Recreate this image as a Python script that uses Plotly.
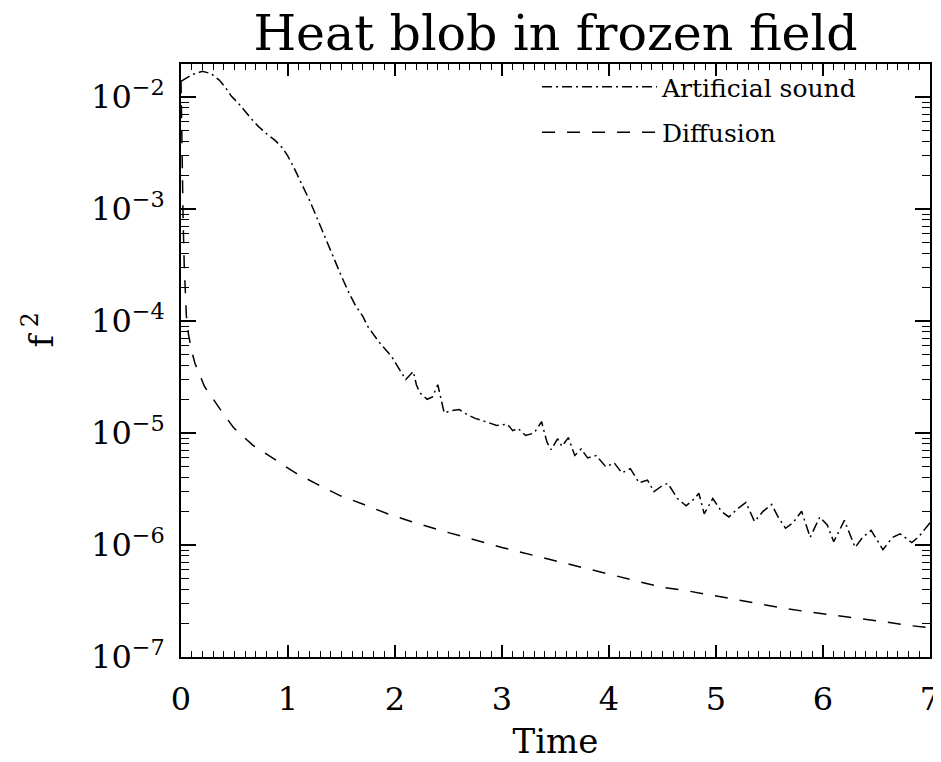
"""Heat blob in frozen field: f^2 against time, log scale."""

import plotly.graph_objects as go

_FONT = "DejaVu Serif"

# Artificial sound run (dash-dot line)
sound_t = [
    0.0, 0.05, 0.1, 0.2, 0.28, 0.36, 0.42, 0.47, 0.55, 0.65,
    0.72, 0.8, 0.88, 0.95, 1.0, 1.05, 1.1, 1.15, 1.2, 1.25,
    1.3, 1.35, 1.4, 1.45, 1.5, 1.57, 1.63, 1.7, 1.74, 1.85,
    1.97, 2.0, 2.07, 2.1, 2.14, 2.17, 2.2, 2.23, 2.3, 2.35,
    2.4, 2.43, 2.46, 2.52, 2.6, 2.68, 2.75, 2.85, 2.95, 3.05,
    3.1, 3.15, 3.22, 3.3, 3.37, 3.42, 3.46, 3.52, 3.56, 3.62,
    3.68, 3.74, 3.8, 3.88, 3.97, 4.05, 4.12, 4.2, 4.28, 4.36,
    4.42, 4.5, 4.55, 4.64, 4.72, 4.8, 4.84, 4.89, 4.97, 5.05,
    5.12, 5.2, 5.28, 5.36, 5.44, 5.52, 5.58, 5.65, 5.72, 5.8,
    5.88, 5.97, 6.04, 6.1, 6.2, 6.3, 6.37, 6.45, 6.56, 6.65,
    6.72, 6.83, 6.9, 7.0,
]
sound_f2 = [
    1.38e-2, 1.48e-2, 1.58e-2, 1.70e-2, 1.62e-2, 1.41e-2, 1.20e-2, 1.02e-2, 8.5e-3, 6.5e-3,
    5.5e-3, 4.7e-3, 4.1e-3, 3.5e-3, 2.95e-3, 2.4e-3, 1.9e-3, 1.55e-3, 1.2e-3, 9.3e-4,
    7.1e-4, 5.4e-4, 4.2e-4, 3.2e-4, 2.5e-4, 1.78e-4, 1.38e-4, 1.10e-4, 9.1e-5, 6.5e-5,
    4.8e-5, 4.3e-5, 3.4e-5, 3.0e-5, 3.3e-5, 3.55e-5, 2.7e-5, 2.3e-5, 2.0e-5, 2.1e-5,
    2.7e-5, 2.0e-5, 1.51e-5, 1.58e-5, 1.62e-5, 1.45e-5, 1.35e-5, 1.26e-5, 1.17e-5, 1.20e-5,
    1.05e-5, 1.10e-5, 9.5e-6, 1.0e-5, 1.26e-5, 8.3e-6, 7.1e-6, 8.9e-6, 7.6e-6, 9.1e-6,
    6.3e-6, 7.2e-6, 6.0e-6, 6.3e-6, 5.0e-6, 5.4e-6, 4.4e-6, 4.8e-6, 3.6e-6, 3.8e-6,
    3.0e-6, 3.4e-6, 3.55e-6, 2.6e-6, 2.24e-6, 2.6e-6, 2.9e-6, 1.9e-6, 2.6e-6, 2.0e-6,
    1.78e-6, 2.1e-6, 2.4e-6, 1.62e-6, 2.0e-6, 2.3e-6, 1.78e-6, 1.41e-6, 1.58e-6, 2.0e-6,
    1.17e-6, 1.78e-6, 1.51e-6, 1.07e-6, 1.66e-6, 9.5e-7, 1.17e-6, 1.35e-6, 9.1e-7, 1.17e-6,
    1.26e-6, 1.05e-6, 1.20e-6, 1.58e-6,
]

# Diffusion run (dashed line)
diff_t = [
    0.0, 0.005, 0.01, 0.02, 0.03, 0.04, 0.05, 0.07, 0.1, 0.13,
    0.22, 0.36, 0.49, 0.67, 0.86, 1.07, 1.27, 1.49, 1.71, 1.93,
    2.15, 2.5, 3.0, 3.5, 4.0, 4.49, 4.73, 4.96, 5.2, 5.43,
    5.66, 5.9, 6.13, 6.36, 6.59, 6.83, 7.0,
]
diff_f2 = [
    1.41e-2, 6.3e-3, 2.5e-3, 7.9e-4, 3.2e-4, 1.6e-4, 1.12e-4, 7.6e-5, 5.4e-5, 4.2e-5,
    2.6e-5, 1.66e-5, 1.12e-5, 7.8e-6, 5.9e-6, 4.4e-6, 3.5e-6, 2.75e-6, 2.3e-6, 1.9e-6,
    1.62e-6, 1.29e-6, 9.5e-7, 7.2e-7, 5.5e-7, 4.2e-7, 3.9e-7, 3.55e-7, 3.25e-7, 2.95e-7,
    2.7e-7, 2.5e-7, 2.35e-7, 2.2e-7, 2.05e-7, 1.9e-7, 1.82e-7,
]

x_ticks = [0, 1, 2, 3, 4, 5, 6, 7]
y_ticks = [1e-7, 1e-6, 1e-5, 1e-4, 1e-3, 1e-2]
y_labels = ["10<sup>−7</sup>", "10<sup>−6</sup>", "10<sup>−5</sup>",
            "10<sup>−4</sup>", "10<sup>−3</sup>", "10<sup>−2</sup>"]
# minor log ticks: 2..9 within each decade
y_minor = [m * d for d in y_ticks for m in range(2, 10)]

X_RANGE = [0, 7]
Y_RANGE = [-7, -1.705]   # log10 units

fig = go.Figure()
fig.add_trace(go.Scatter(
    x=sound_t, y=sound_f2, mode="lines", name="Artificial sound",
    legendgroup="a",
    line=dict(color="black", width=1.5, dash="10px,4px,2px,4px"),
))
fig.add_trace(go.Scatter(
    x=diff_t, y=diff_f2, mode="lines", name="Diffusion",
    legendgroup="b",
    line=dict(color="black", width=1.5, dash="13px,12px"),
))
# empty trace so the top/right tick axes get drawn
fig.add_trace(go.Scatter(x=[None], y=[None], xaxis="x2", yaxis="y2",
                         showlegend=False, hoverinfo="skip"))

x_tick_style = dict(
    ticks="inside", tickcolor="black", tickwidth=1.5, ticklen=12,
    tickvals=x_ticks, range=X_RANGE, showgrid=False, zeroline=False,
    minor=dict(dtick=0.1, ticks="inside", ticklen=6, tickcolor="black",
               tickwidth=1.2, showgrid=False),
)
y_tick_style = dict(
    type="log", range=Y_RANGE,
    ticks="inside", tickcolor="black", tickwidth=1.5, ticklen=15,
    tickvals=y_ticks, showgrid=False, zeroline=False,
    minor=dict(tickmode="array", tickvals=y_minor, ticks="inside",
               ticklen=8, tickcolor="black", tickwidth=1.2, showgrid=False),
)

fig.update_layout(
    width=941, height=762,
    paper_bgcolor="white", plot_bgcolor="white",
    margin=dict(l=173, r=9, t=56, b=113),
    font=dict(family=_FONT, color="black"),
    title=dict(
        text="Heat blob in frozen field",
        font=dict(family=_FONT, size=49, color="black"),
        x=0.5, xref="paper", xanchor="center",
        y=1 - 25 / 762, yref="container", yanchor="middle",
    ),
    xaxis=dict(
        **x_tick_style,
        showline=True, linecolor="black", linewidth=1.5, mirror=True,
        tickfont=dict(family=_FONT, size=32, color="black"),
        ticklabelstandoff=13,
        title=dict(text="Time", font=dict(family=_FONT, size=34, color="black"),
                   standoff=12),
    ),
    yaxis=dict(
        **y_tick_style,
        showline=True, linecolor="black", linewidth=1.5, mirror=True,
        ticktext=y_labels,
        tickfont=dict(family=_FONT, size=32, color="black"),
        ticklabelstandoff=8,
    ),
    xaxis2=dict(**x_tick_style, overlaying="x", side="top", anchor="y",
                showticklabels=False, showline=False),
    yaxis2=dict(**y_tick_style, overlaying="y", side="right", anchor="x",
                showticklabels=False, showline=False),
    legend=dict(
        x=(538 - 181) / 751, xanchor="left",
        y=1.0, yanchor="top",
        bgcolor="rgba(0,0,0,0)", borderwidth=0,
        font=dict(family=_FONT, size=25, color="black"),
        itemwidth=115, traceorder="grouped", tracegroupgap=10,
    ),
    annotations=[dict(
        text="f<sup> 2</sup>", textangle=-90,
        xref="paper", yref="paper",
        x=(38 - 181) / 751, y=(657 - 330) / 593,
        xanchor="center", yanchor="middle", showarrow=False,
        font=dict(family=_FONT, size=34, color="black"),
    )],
)

fig.write_html("out.html")
